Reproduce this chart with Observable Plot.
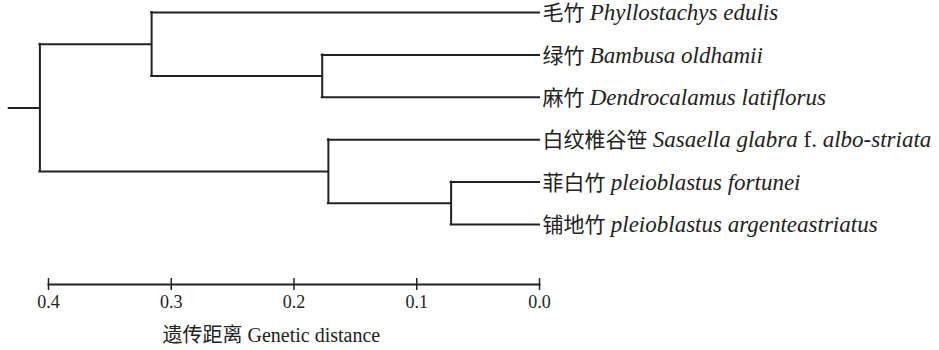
<!DOCTYPE html>
<html>
<head>
<meta charset="utf-8">
<script src="https://cdn.jsdelivr.net/npm/d3@7"></script>
<script src="https://cdn.jsdelivr.net/npm/@observablehq/plot@0.6"></script>
<style>
  html, body { margin: 0; padding: 0; background: #fff; }
</style>
</head>
<body>
<div id="chart"></div>
<script>
// Leaves (top to bottom)
const cnNames = ["毛竹", "绿竹", "麻竹", "白纹椎谷笹", "菲白竹", "铺地竹"];
const latinNames = [
  "Phyllostachys edulis",
  "Bambusa oldhamii",
  "Dendrocalamus latiflorus",
  "Sasaella glabra f. albo-striata",
  "pleioblastus fortunei",
  "pleioblastus argenteastriatus"
];
// Merges (linkage style): node ids 0-5 are leaves, 6.. are merges in order
const mergeA = [1, 0, 4, 3, 7];
const mergeB = [2, 6, 5, 8, 9];
const mergeHeight = [0.177, 0.316, 0.072, 0.172, 0.407];
const rootStubEnd = 0.432;
const tickValues = [0.4, 0.3, 0.2, 0.1, 0.0];
const axisTitle = "遗传距离 Genetic distance";

// Build node positions
const nodeY = cnNames.map((_, i) => i);
const nodeH = cnNames.map(() => 0);
mergeA.forEach((a, k) => {
  const b = mergeB[k];
  nodeY.push((nodeY[a] + nodeY[b]) / 2);
  nodeH.push(mergeHeight[k]);
});
const verticals = [];
const horizontals = [];
mergeA.forEach((a, k) => {
  const b = mergeB[k];
  const id = cnNames.length + k;
  verticals.push({h: nodeH[id], y1: nodeY[a], y2: nodeY[b]});
  horizontals.push({y: nodeY[a], x1: nodeH[a], x2: nodeH[id]});
  horizontals.push({y: nodeY[b], x1: nodeH[b], x2: nodeH[id]});
});
const rootId = nodeY.length - 1;
horizontals.push({y: nodeY[rootId], x1: nodeH[rootId], x2: rootStubEnd});

const leaves = cnNames.map((cn, i) => ({i, cn, latin: latinNames[i], label: cn + " " + latinNames[i]}));

const ink = "#222";
const serif = "'Liberation Serif', 'Times New Roman', 'Noto Sans CJK SC', serif";
const chart = Plot.plot({
  width: 939,
  height: 350,
  marginLeft: 48,
  marginRight: 400,
  marginTop: 12,
  marginBottom: 126,
  style: {fontFamily: serif, fontSize: "19px", background: "#fff", color: ink},
  x: {domain: [0.4, 0], axis: null},
  y: {domain: [0, 5], reverse: true, axis: null},
  marks: [
    Plot.ruleX(verticals, {x: "h", y1: "y1", y2: "y2", stroke: ink, strokeWidth: 2, strokeLinecap: "square"}),
    Plot.ruleY(horizontals, {y: "y", x1: "x1", x2: "x2", stroke: ink, strokeWidth: 2, strokeLinecap: "square"}),
    Plot.text(leaves, {x: 0, y: "i", text: "label", textAnchor: "start", dx: 3, dy: 1, fontSize: 21, fontFamily: serif, fill: ink, className: "leaf-labels"}),
    Plot.frame({anchor: "bottom", dy: 60, stroke: ink, strokeWidth: 2}),
    Plot.axisX({ticks: tickValues, tickFormat: d3.format(".1f"), anchor: "bottom", tickSize: 12, dy: 54, tickPadding: 5, fontSize: 18, fontFamily: serif, stroke: ink, strokeWidth: 1.5, fill: ink, label: null}),
    Plot.text([axisTitle], {frameAnchor: "bottom-left", dx: 114, dy: 111, textAnchor: "start", lineAnchor: "middle", fontSize: 20, fontFamily: serif, fill: ink})
  ]
});

// Style leaf labels: Chinese upright, Latin binomials italic (larger Times), "f." upright
d3.select(chart).selectAll(".leaf-labels text").each(function(_, j) {
  const d = leaves[j];
  const el = d3.select(this);
  el.text(null);
  el.append("tspan").text(d.cn + " ");
  const parts = d.latin.split(" f. ");
  parts.forEach((p, k) => {
    if (k > 0) el.append("tspan").attr("font-style", "normal").attr("font-size", 23).text(" f. ");
    el.append("tspan").attr("font-style", "italic").attr("font-size", 23).text(p);
  });
});
d3.select(chart).selectAll("text").style("font-family", serif);

document.getElementById("chart").appendChild(chart);
</script>
</body>
</html>
